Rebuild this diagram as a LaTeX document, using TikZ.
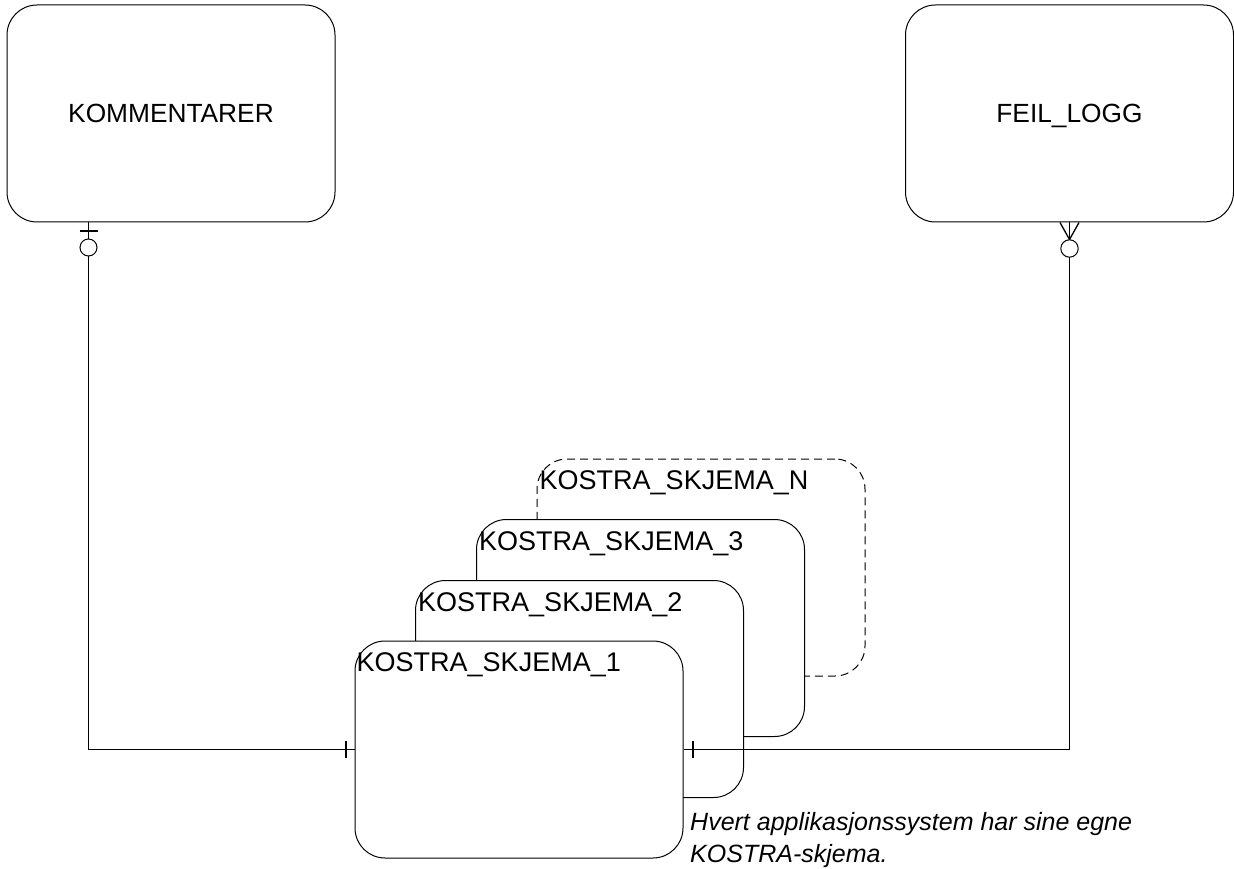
\documentclass[tikz,border=0pt]{standalone}
\usepackage{fontspec}
\setmainfont{Liberation Sans}
\usetikzlibrary{calc}
\begin{document}
\begin{tikzpicture}[x=1pt,y=-1pt,
  ent/.style={draw, line width=1pt, rounded corners=30pt, minimum width=328pt, minimum height=217pt, fill=white, inner sep=0pt, text depth=0pt, font=\fontsize{26.3}{30}\selectfont},
  lbl/.style={anchor=base west, inner sep=0pt, font=\fontsize{27}{30}\selectfont},
  conn/.style={line width=1pt},
  bar/.style={line width=2pt},
  crow/.style={line width=1.3pt}]
\useasboundingbox (0,0) rectangle (1234,869);
% entities
\node[ent] (kom) at (171,113.5) {KOMMENTARER};
\node[ent] (fl) at (1069.5,113.5) {FEIL\_LOGG};
\node[ent, dash pattern=on 8pt off 5pt] (kn) at (701,567.5) {};
\node[lbl] (knt) at ($(kn.north west)+(3,31)$) {KOSTRA\_SKJEMA\_N};
\node[ent] (k3) at (640.5,628) {};
\node[lbl] (k3t) at ($(k3.north west)+(3,31)$) {KOSTRA\_SKJEMA\_3};
\node[ent] (k2) at (579.5,689) {};
\node[lbl] (k2t) at ($(k2.north west)+(3,31)$) {KOSTRA\_SKJEMA\_2};
\node[ent] (k1) at (519,749.5) {};
\node[lbl] (k1t) at ($(k1.north west)+(2,31)$) {KOSTRA\_SKJEMA\_1};
% connectors
\draw[conn] ($(kom.south west)+(82,0)$) |- (k1.west);
\draw[conn] (fl.south) |- (k1.east);
% bars at KOSTRA_1
\draw[bar] ($(k1.west)+(-9,-8.5)$) -- ++(0,17);
\draw[bar] ($(k1.east)+(9,-8.5)$) -- ++(0,17);
% KOMMENTARER end: one bar + circle
\draw[bar] ($(kom.south west)+(73,9)$) -- ++(18,0);
\draw[conn, fill=white] ($(kom.south west)+(82,25)$) circle[radius=8.5];
% FEIL_LOGG end: crow's foot + circle
\draw[crow] ($(fl.south)+(-9.5,0)$) -- ($(fl.south)+(0,17)$) -- ($(fl.south)+(9.5,0)$);
\draw[conn, fill=white] ($(fl.south)+(0,26)$) circle[radius=8.7];
% note
\node[anchor=north west, align=left, inner sep=0pt, font=\fontsize{25}{32}\selectfont\itshape] (note) at (690,812) {Hvert applikasjonssystem har sine egne\\KOSTRA-skjema.};
\end{tikzpicture}
\end{document}
